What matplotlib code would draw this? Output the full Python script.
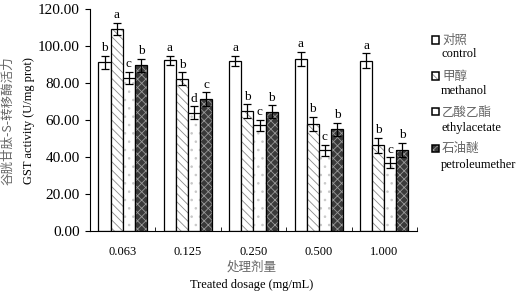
import numpy as np
import matplotlib
matplotlib.use("Agg")
import matplotlib.pyplot as plt
from matplotlib.patches import Rectangle

dosages = ["0.063", "0.125", "0.250", "0.500", "1.000"]
series_cn = ["对照", "甲醇", "乙酸乙酯", "石油醚"]
series_en = ["control", "methanol", "ethylacetate", "petroleumether"]
control = [91.2, 92.3, 91.9, 93.1, 92.1]
methanol = [109.2, 82.3, 64.9, 58.0, 46.3]
ethylacetate = [82.9, 64.0, 57.2, 43.6, 37.0]
petroleum = [89.6, 71.4, 64.5, 55.0, 43.8]
err_control = [3.6, 2.4, 2.9, 3.8, 3.9]
err_methanol = [3.4, 3.5, 3.6, 3.8, 4.0]
err_ethyl = [3.2, 3.4, 3.0, 3.0, 3.0]
err_petro = [3.5, 3.6, 3.5, 3.5, 4.0]
letters = [["b", "a", "a", "a", "a"],
           ["a", "b", "b", "b", "b"],
           ["c", "d", "c", "c", "c"],
           ["b", "c", "b", "b", "b"]]

values = [control, methanol, ethylacetate, petroleum]
errors = [err_control, err_methanol, err_ethyl, err_petro]
# face colour, hatch, hatch colour
styles = [("white", "", "black"),
          ("white", "\\\\\\\\", "#8a8a8a"),
          ("white", "..", "#c8c8c8"),
          ("#3a3a3a", "xxxx", "#9a9a9a")]

serif = "Liberation Serif"
cjk = ["Noto Sans CJK SC", "DejaVu Sans"]
plt.rcParams["font.family"] = serif
plt.rcParams["hatch.linewidth"] = 0.6

fig = plt.figure(figsize=(5.19, 2.94), dpi=100)
ax = fig.add_axes([0.1734, 0.2143, 0.630, 0.755])

x = np.arange(len(dosages))
w = 0.185
for i, (vals, errs) in enumerate(zip(values, errors)):
    fc, hatch, hc = styles[i]
    pos = x + (i - 1.5) * w
    ax.bar(pos, vals, w, color=fc, hatch=hatch, edgecolor=hc, linewidth=0)
    ax.bar(pos, vals, w, fill=False, edgecolor="black", linewidth=0.9)
    ax.errorbar(pos, vals, yerr=errs, fmt="none", ecolor="black",
                elinewidth=0.9, capsize=3, capthick=0.9)
    for p, v, e, lt in zip(pos, vals, errs, letters[i]):
        ax.text(p, v + e + 0.8, lt, ha="center", va="bottom", fontsize=9.5)

ax.set_xlim(-0.5, len(dosages) - 0.5)
ax.set_ylim(0, 120)
ax.set_yticks(np.arange(0, 121, 20))
ax.set_yticklabels([f"{t:.2f}" for t in np.arange(0, 121, 20)], fontsize=11)
ax.set_xticks(x)
ax.set_xticklabels(dosages, fontsize=9)
ax.tick_params(axis="x", which="major", length=0, pad=11)
ax.set_xticks(np.arange(0.5, len(dosages), 1), minor=True)
ax.tick_params(axis="x", which="minor", direction="in", length=3)
ax.tick_params(axis="y", direction="out", length=3.5, pad=4)
ax.spines["top"].set_visible(False)
ax.spines["right"].set_visible(False)

# axis titles
fig.text(0.016, 0.59, "谷胱甘肽-S-转移酶活力", rotation=90, ha="center", va="center",
         fontsize=9, color="#666666", family=cjk)
fig.text(0.056, 0.59, "GST activity (U/mg prot)", rotation=90, ha="center",
         va="center", fontsize=9)
fig.text(0.4855, 0.092, "处理剂量", ha="center", va="center", fontsize=9,
         color="#666666", family=cjk)
fig.text(0.4855, 0.030, "Treated dosage (mg/mL)", ha="center", va="center", fontsize=9)

# legend
leg_cn_y = [40, 76, 112, 148]
leg_en_y = [54, 91, 128, 165]
for i in range(len(series_cn)):
    fc, hatch, hc = styles[i]
    yy = 1 - leg_cn_y[i] / 294
    fig.patches.append(Rectangle((432 / 519, yy - 3.5 / 294), 7 / 519, 7 / 294,
                                 transform=fig.transFigure, facecolor=fc,
                                 hatch=hatch, edgecolor=hc, linewidth=0))
    fig.patches.append(Rectangle((432 / 519, yy - 3.5 / 294), 7 / 519, 7 / 294,
                                 transform=fig.transFigure, fill=False,
                                 edgecolor="black", linewidth=1.1))
    fig.text(442 / 519, yy, series_cn[i], ha="left", va="center", fontsize=9,
             color="#666666", family=cjk)
    fig.text(441 / 519, 1 - leg_en_y[i] / 294, series_en[i], ha="left", va="center",
             fontsize=9)

fig.savefig("out.png", dpi=100)
